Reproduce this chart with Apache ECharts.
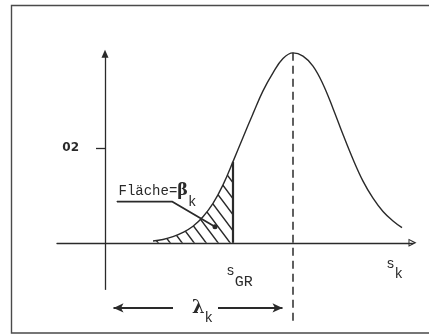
<!DOCTYPE html>
<html>
<head>
<meta charset="utf-8">
<script src="https://cdn.jsdelivr.net/npm/echarts@6/dist/echarts.min.js"></script>
<style>
  html, body { margin: 0; padding: 0; background: #ffffff; }
  #chart { width: 429px; height: 336px; }
</style>
</head>
<body>
<div id="chart"></div>
<script>
// Density curve of s_k (abscissa values and ordinates)
const sValues = [4.8, 5.8, 6.8, 7.8, 8.8, 9.8, 10.8, 11.8, 12.8, 13.8, 14.8, 15.8, 16.8,
                 17.8, 18.8, 19.8, 20.8, 21.8, 22.8, 23.8, 24.8, 25.8, 26.8, 27.8, 28.8, 29.7];
const density = [0.0004, 0.0007, 0.0013, 0.0022, 0.0035, 0.0055, 0.0083, 0.0122, 0.0171,
                 0.0222, 0.0272, 0.0320, 0.0358, 0.0388, 0.0400, 0.0393, 0.0372, 0.0334,
                 0.0283, 0.0228, 0.0176, 0.0130, 0.0094, 0.0066, 0.0046, 0.0032];

// Limit value s_GR and position of the maximum (lambda_k)
const sGR = 12.8;
const lambdaK = 18.8;

// Ordinate tick
const yTickValues = [0.02];
const yTickLabels = ['02'];

// ---------------------------------------------------------------
const ink = '#2a2a2a';
const mono = '"Liberation Mono", "DejaVu Sans Mono", monospace';
const serif = '"DejaVu Serif", "Liberation Serif", serif';

const curve = sValues.map((s, i) => [s, density[i]]);
const hatched = curve.filter(p => p[0] <= sGR);
const peakValue = density[sValues.indexOf(lambdaK)];
const grValue = density[sValues.indexOf(sGR)];

// helper placements for the annotation lines (data units)
const yAxisFrom = -0.0099, yAxisTo = 0.0398;
const dashBottom = -0.0168;
const lambdaLevel = -0.0137;
const leader = [[1.2, 0.0087], [6.7, 0.0087], [11.0, 0.0034]];

// diagonal hatch used for the area left of s_GR
function hatchPattern() {
  const w = 12, h = 16;
  const cv = document.createElement('canvas');
  cv.width = w; cv.height = h;
  const g = cv.getContext('2d');
  g.strokeStyle = ink;
  g.lineWidth = 1.4;
  g.beginPath();
  g.moveTo(0, 0); g.lineTo(w, h);
  g.moveTo(-0.2 * w, 0.8 * h); g.lineTo(0.2 * w, 1.2 * h);
  g.moveTo(0.8 * w, -0.2 * h); g.lineTo(1.2 * w, 0.2 * h);
  g.stroke();
  return cv;
}

const chart = echarts.init(document.getElementById('chart'), null, { renderer: 'canvas' });

const option = {
  animation: false,
  backgroundColor: '#ffffff',
  graphic: [{
    type: 'rect',
    silent: true,
    shape: { x: 11.5, y: 5.5, width: 440, height: 327.5 },
    style: { fill: 'none', stroke: '#4a4a4a', lineWidth: 1.4 }
  }],
  grid: { left: 57, right: 16.5, top: 50, bottom: 7.65 },
  xAxis: {
    type: 'value',
    min: -4.8,
    max: 30.75,
    name: '{s|s}{k|k}',
    nameLocation: 'end',
    nameGap: -9.5,
    nameTextStyle: {
      align: 'right',
      verticalAlign: 'top',
      padding: [4, 0, 0, 0],
      rich: {
        s: { fontFamily: mono, fontSize: 14, color: ink },
        k: { fontFamily: mono, fontSize: 14, color: ink, padding: [20, 0, 0, 0] }
      }
    },
    axisLine: {
      show: true,
      onZero: true,
      symbol: ['none', 'path://M5,0L10,10L0,10Z M5,3.4L1.9,8.8L8.1,8.8Z'],
      symbolSize: [8, 9],
      lineStyle: { color: ink, width: 1.3 }
    },
    axisTick: { show: false },
    axisLabel: { show: false },
    splitLine: { show: false }
  },
  yAxis: {
    type: 'value',
    min: -0.018,
    max: 0.0406,
    axisLine: { show: false, onZero: true },
    axisTick: {
      show: true,
      customValues: yTickValues,
      length: 9,
      lineStyle: { color: ink, width: 1.3 }
    },
    axisLabel: {
      show: true,
      customValues: yTickValues,
      margin: -22,
      color: ink,
      fontFamily: '"DejaVu Sans", sans-serif',
      fontWeight: 'bold',
      fontSize: 12,
      formatter: v => yTickLabels[yTickValues.indexOf(v)] || ''
    },
    splitLine: { show: false }
  },
  series: [
    {
      name: 'beta',
      type: 'line',
      data: hatched,
      smooth: 0.4,
      symbol: 'none',
      silent: true,
      lineStyle: { width: 0, opacity: 0 },
      areaStyle: { color: { image: hatchPattern(), repeat: 'repeat' }, opacity: 1 },
      z: 1
    },
    {
      name: 'density',
      type: 'line',
      data: curve,
      smooth: 0.4,
      symbol: 'none',
      silent: true,
      lineStyle: { color: ink, width: 1.4 },
      z: 3,
      markLine: {
        silent: true,
        animation: false,
        symbol: ['none', 'arrow'],
        symbolSize: [7, 10],
        label: { show: false },
        lineStyle: { color: ink, width: 1.8, type: 'solid' },
        emphasis: { disabled: true },
        data: [
          [
            { coord: [0, yAxisFrom], symbol: 'none', lineStyle: { width: 1.3 } },
            { coord: [0, yAxisTo], symbol: 'triangle', symbolSize: [7, 8] }
          ],
          [
            { coord: [6.8, lambdaLevel] },
            { coord: [0.85, lambdaLevel] }
          ],
          [
            {
              coord: [11.3, lambdaLevel],
              label: {
                show: true,
                position: 'start',
                distance: 5,
                formatter: '{l|λ}{k|k}',
                rich: {
                  l: { fontFamily: serif, fontWeight: 'bold', fontSize: 18, color: ink },
                  k: { fontFamily: mono, fontSize: 14, color: ink, padding: [21, 0, 0, 0] }
                }
              }
            },
            { coord: [17.75, lambdaLevel] }
          ]
        ]
      }
    },
    {
      name: 'sGR',
      type: 'line',
      silent: true,
      symbol: 'none',
      lineStyle: { color: ink, width: 2.2 },
      itemStyle: { color: ink },
      z: 4,
      data: [
        {
          value: [sGR, 0],
          symbol: 'circle',
          symbolSize: 1,
          label: {
            show: true,
            position: 'bottom',
            distance: 0,
            offset: [6.5, 9],
            formatter: '{s|s}{g|GR}',
            rich: {
              s: { fontFamily: mono, fontSize: 14, color: ink },
              g: { fontFamily: mono, fontSize: 15, color: ink, padding: [22, 0, 0, 0] }
            }
          }
        },
        { value: [sGR, grValue] }
      ]
    },
    {
      name: 'lambda',
      type: 'line',
      silent: true,
      symbol: 'none',
      lineStyle: { color: ink, width: 1.5, type: [8, 5] },
      z: 2,
      data: [[lambdaK, peakValue], [lambdaK, dashBottom]]
    },
    {
      name: 'leader',
      type: 'line',
      silent: true,
      symbol: 'none',
      lineStyle: { color: ink, width: 1.8 },
      itemStyle: { color: ink },
      z: 5,
      data: [
        {
          value: leader[0],
          symbol: 'circle',
          symbolSize: 1,
          label: {
            show: true,
            position: 'right',
            distance: 0,
            offset: [1, -10.5],
            formatter: '{a|Fläche=}{b|β}{k|k}',
            rich: {
              a: { fontFamily: mono, fontSize: 14, color: ink },
              b: { fontFamily: serif, fontWeight: 'bold', fontSize: 16, color: ink },
              k: { fontFamily: mono, fontSize: 14, color: ink, padding: [22, 0, 0, 0] }
            }
          }
        },
        { value: leader[1] },
        { value: leader[2], symbol: 'circle', symbolSize: 5 }
      ]
    }
  ]
};

chart.setOption(option);
</script>
</body>
</html>
